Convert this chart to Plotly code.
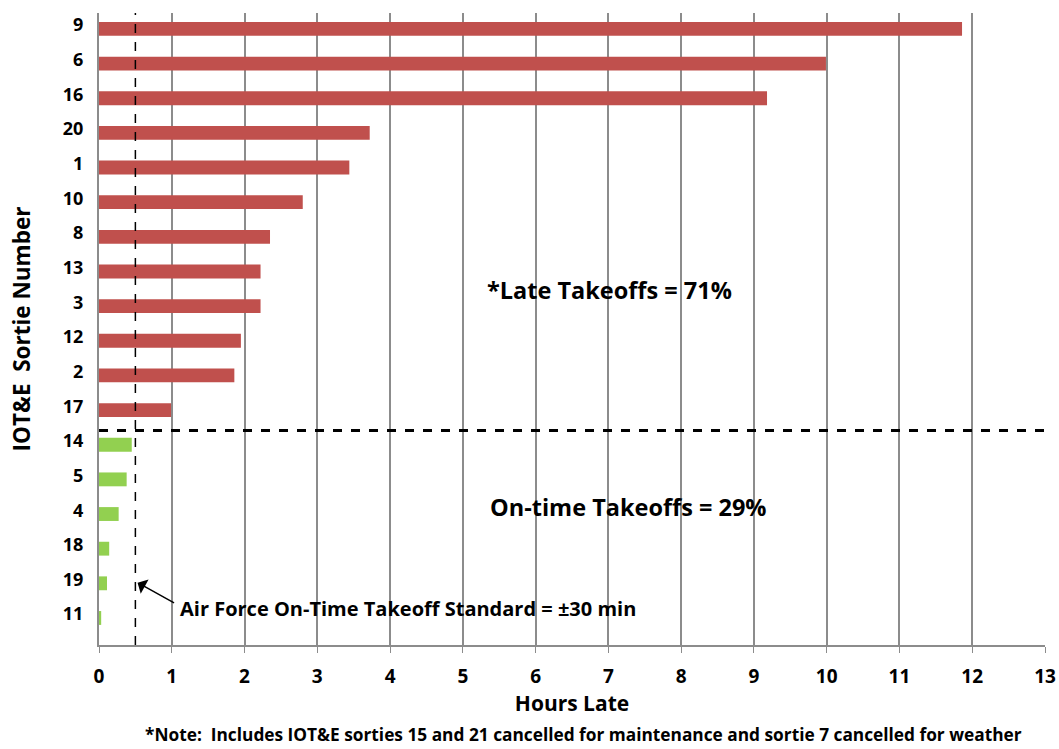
import plotly.graph_objects as go

# Sorties, top to bottom, and hours late
late_sorties = ["9", "6", "16", "20", "1", "10", "8", "13", "3", "12", "2", "17"]
late_hours = [11.86, 9.99, 9.18, 3.72, 3.44, 2.80, 2.35, 2.22, 2.22, 1.95, 1.86, 0.99]

ontime_sorties = ["14", "5", "4", "18", "19", "11"]
ontime_hours = [0.45, 0.38, 0.27, 0.14, 0.11, 0.03]

standard_hours = 0.5  # +/-30 min takeoff standard
x_ticks = list(range(0, 14))

RED = "#C0504D"
GREEN = "#92D050"
GRID = "#8C8C8C"
FONT = "Open Sans"

late_pos = list(range(len(late_sorties)))
ontime_pos = [len(late_sorties) + i for i in range(len(ontime_sorties))]
all_labels = late_sorties + ontime_sorties
all_pos = late_pos + ontime_pos

fig = go.Figure()
fig.add_trace(go.Bar(
    y=late_pos, x=late_hours, orientation="h", width=0.4,
    marker=dict(color=RED, line=dict(width=0)), showlegend=False,
    hoverinfo="x+text", text=late_sorties, textposition="none",
))
fig.add_trace(go.Bar(
    y=ontime_pos, x=ontime_hours, orientation="h", width=0.4,
    marker=dict(color=GREEN, line=dict(width=0)), showlegend=False,
    hoverinfo="x+text", text=ontime_sorties, textposition="none",
))

# Boundary between late and on-time takeoffs
boundary = len(late_sorties) - 0.41
fig.add_shape(type="line", xref="paper", yref="y", x0=0, x1=1,
              y0=boundary, y1=boundary,
              line=dict(color="black", width=3, dash="dash"))
# On-time standard line
fig.add_shape(type="line", xref="x", yref="paper", x0=standard_hours, x1=standard_hours,
              y0=0, y1=1, line=dict(color="black", width=1.5, dash="dash"))

fig.add_annotation(x=7.02, y=7.54, text="<b>*Late Takeoffs = 71%</b>", showarrow=False,
                   font=dict(size=23.5, color="black", family=FONT))
fig.add_annotation(x=7.27, y=13.8, text="<b>On-time Takeoffs = 29%</b>", showarrow=False,
                   font=dict(size=23.5, color="black", family=FONT))
fig.add_annotation(x=1.08, y=16.72, xanchor="left",
                   text="<b>Air Force On-Time Takeoff Standard = \u00b130 min</b>",
                   showarrow=False, font=dict(size=20, color="black", family=FONT))
fig.add_annotation(x=0.53, y=15.98, ax=38, ay=21, axref="pixel", ayref="pixel",
                   text="", showarrow=True, arrowhead=1, arrowsize=1.8, arrowwidth=1.5,
                   arrowcolor="black")

fig.add_annotation(xref="paper", yref="paper", x=0.512, y=-0.141,
                   text="<b>*Note:  Includes IOT&E sorties 15 and 21 cancelled for maintenance and sortie 7 cancelled for weather</b>",
                   showarrow=False, yanchor="middle",
                   font=dict(size=17.3, color="black", family=FONT))

fig.update_layout(
    width=1059, height=749,
    margin=dict(l=99, r=14, t=13, b=104, autoexpand=False),
    paper_bgcolor="white", plot_bgcolor="white",
    font=dict(family=FONT, color="black"),
    bargap=0.6,
    xaxis=dict(
        range=[0, 13], tickvals=x_ticks, ticktext=[f"<b>{v}</b>" for v in x_ticks],
        showgrid=True, gridcolor=GRID, gridwidth=2,
        showline=True, linecolor=GRID, linewidth=2,
        ticks="outside", ticklen=6, tickcolor=GRID, tickwidth=1,
        tickfont=dict(size=19, family=FONT), ticklabelstandoff=7,
        title=dict(text="<b>Hours Late</b>", font=dict(size=21, family=FONT), standoff=6),
        zeroline=False, automargin=False,
    ),
    yaxis=dict(
        range=[17.78, -0.46],
        tickvals=[p - 0.11 for p in all_pos],
        ticktext=[f"<b>{s}</b>" for s in all_labels],
        showgrid=False, showline=True, linecolor=GRID, linewidth=2,
        ticks="", tickfont=dict(size=18, family=FONT), ticklabelstandoff=10,
        title=dict(text="<b>IOT&E  Sortie Number</b>", font=dict(size=22.5, family=FONT), standoff=26),
        zeroline=False, automargin=False,
    ),
)

fig.write_html("out.html")
